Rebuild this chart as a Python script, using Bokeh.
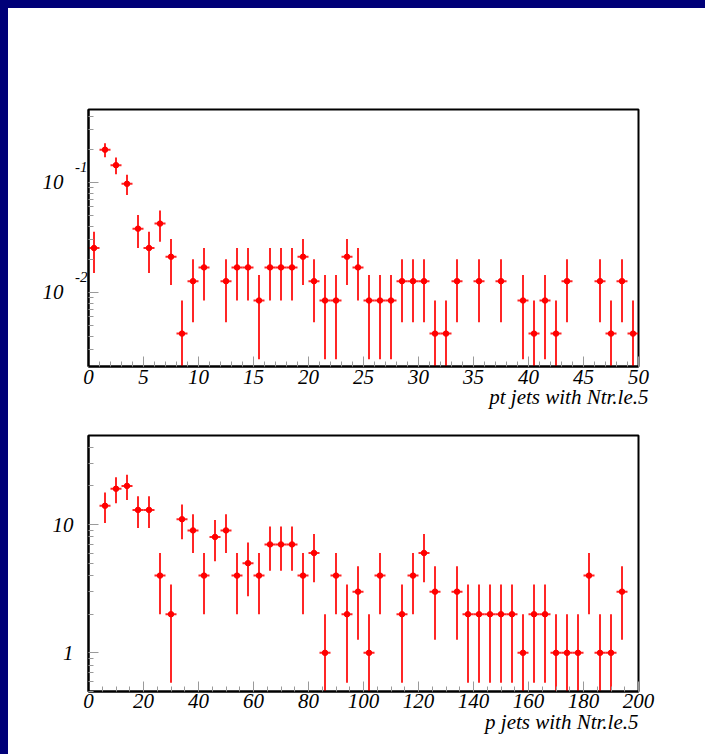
import math
from bokeh.plotting import figure
from bokeh.layouts import column
from bokeh.models import FixedTicker, ColumnDataSource, Range1d, LogAxis, Title
from bokeh.embed import file_html
from bokeh.resources import INLINE

# ---- data ----
# top panel: pt of jets, bins of width 1 on [0, 50], entries per bin (normalised to unit area)
pt_centers = [i + 0.5 for i in range(50)]
pt_counts = [6, 47, 34, 23, 9, 6, 10, 5, 1, 3,
             4, 0, 3, 4, 4, 2, 4, 4, 4, 5,
             3, 2, 2, 5, 4, 2, 2, 2, 3, 3,
             3, 1, 1, 3, 0, 3, 0, 3, 0, 2,
             1, 2, 1, 3, 0, 0, 3, 1, 3, 1]
pt_half_width = 0.5

# bottom panel: p of jets, bins of width 4 on [0, 200], entries per bin
p_centers = [2 + 4 * i for i in range(50)]
p_counts = [0, 14, 19, 20, 13, 13, 4, 2, 11, 9,
            4, 8, 9, 4, 5, 4, 7, 7, 7, 4,
            6, 1, 4, 2, 3, 1, 4, 0, 2, 4,
            6, 3, 0, 3, 2, 2, 2, 2, 2, 1,
            2, 2, 1, 1, 1, 4, 1, 1, 3, 0]
p_half_width = 2.0

top_title = "pt jets with Ntr.le.5"
bot_title = "p jets with Ntr.le.5"
top_xticks = list(range(0, 51, 5))
top_xminor = list(range(0, 51, 1))
bot_xticks = list(range(0, 201, 20))
bot_xminor = list(range(0, 201, 5))
top_yticks = [0.01, 0.1]
top_ylabels = {0.01: "10", 0.1: "10"}
top_yexponents = [-2, -1]
top_yminor = [m * 1e-3 for m in range(2, 10)] + [m * 1e-2 for m in range(2, 10)] + [0.2, 0.3, 0.4]
bot_yticks = [1, 10]
bot_ylabels = {1: "1", 10: "10"}
bot_yminor = [0.5, 0.6, 0.7, 0.8, 0.9] + list(range(2, 10)) + [20, 30, 40]

FONT = "Liberation Serif"
FSIZE = "21px"
RED = "#ff0000"
TICK_GREY = "#9a9a9a"


def hist_sources(centers, counts, half, norm, floor):
    xs, ys, vy0, vy1, hx0, hx1 = [], [], [], [], [], []
    for c, n in zip(centers, counts):
        if n <= 0:
            continue
        v = n / norm
        e = math.sqrt(n) / norm
        xs.append(c); ys.append(v)
        vy0.append(max(v - e, floor)); vy1.append(v + e)
        hx0.append(c - half); hx1.append(c + half)
    return ColumnDataSource(dict(x=xs, y=ys, y0=vy0, y1=vy1, x0=hx0, x1=hx1))


def label_style(ax, size):
    ax.major_label_text_font = FONT
    ax.major_label_text_font_style = "italic"
    ax.major_label_text_font_size = size
    ax.major_label_text_color = "black"


def style(p, xticks, xminor, yticks, yminor, xlabel, xstandoff, tstandoff, toffset):
    p.xgrid.visible = False
    p.ygrid.visible = False
    p.outline_line_color = "black"
    p.outline_line_width = 2
    p.background_fill_color = "white"
    p.border_fill_color = "white"
    p.xaxis.ticker = FixedTicker(ticks=xticks, minor_ticks=xminor)
    p.yaxis.ticker = FixedTicker(ticks=yticks, minor_ticks=yminor)
    for ax in (p.xaxis, p.yaxis):
        ax.axis_line_color = "black"
        ax.axis_line_width = 2
        ax.major_tick_in = 10
        ax.major_tick_out = 0
        ax.minor_tick_in = 5
        ax.minor_tick_out = 0
        ax.major_tick_line_color = TICK_GREY
        ax.minor_tick_line_color = TICK_GREY
        label_style(ax, FSIZE)
    p.xaxis.major_label_standoff = xstandoff
    t = Title(text=xlabel, align="right", offset=toffset, standoff=0,
              text_font=FONT, text_font_style="italic", text_font_size=FSIZE,
              text_color="black")
    try:
        t.standoff = tstandoff
    except Exception:
        t.standoff = 0
    p.add_layout(t, "below")


def label_axis(ticks, labels, size, standoff):
    ax = LogAxis(ticker=FixedTicker(ticks=ticks, minor_ticks=[]),
                 major_label_overrides=labels)
    ax.axis_line_color = None
    ax.major_tick_line_color = None
    ax.minor_tick_line_color = None
    ax.major_tick_in = 0
    ax.major_tick_out = 0
    ax.minor_tick_in = 0
    ax.minor_tick_out = 0
    ax.major_label_standoff = standoff
    label_style(ax, size)
    return ax


def draw(p, src):
    p.segment(x0="x", y0="y0", x1="x", y1="y1", source=src, line_color=RED, line_width=2, line_alpha=0.85)
    p.segment(x0="x0", y0="y", x1="x1", y1="y", source=src, line_color=RED, line_width=2, line_alpha=0.85)
    p.scatter(x="x", y="y", source=src, size=5.5, marker="circle", fill_color=RED, line_color=RED)


# ---- top panel ----
pt_norm = float(sum(pt_counts))
top_ymin, top_ymax = 0.00212, 0.46
p1 = figure(frame_width=550, frame_height=257, min_border_left=80, min_border_right=67,
            min_border_top=101, min_border_bottom=54,
            x_range=Range1d(0, 50), y_range=Range1d(top_ymin, top_ymax), y_axis_type="log",
            output_backend="svg", toolbar_location=None)
style(p1, top_xticks, top_xminor, top_yticks, top_yminor, top_title, 3, -7, -10)
# inner axis keeps only the ticks; mantissa and exponent labels sit on two outer axes
p1.yaxis.major_label_overrides = {t: "" for t in top_yticks}
p1.yaxis.major_label_text_font_size = "2px"
p1.yaxis.major_label_standoff = 0
sup_pos = [10 ** (k + 0.136) for k in top_yexponents]
sup_axis = label_axis(sup_pos, {pos: str(k) for pos, k in zip(sup_pos, top_yexponents)}, "15px", 1)
ten_axis = label_axis(top_yticks, top_ylabels, FSIZE, 9)
p1.add_layout(sup_axis, "left")
p1.add_layout(ten_axis, "left")
draw(p1, hist_sources(pt_centers, pt_counts, pt_half_width, pt_norm, top_ymin * 0.5))

# ---- bottom panel ----
bot_ymin, bot_ymax = 0.5, 49.4
p2 = figure(frame_width=550, frame_height=256, min_border_left=80, min_border_right=67,
            min_border_top=15, min_border_bottom=63,
            x_range=Range1d(0, 200), y_range=Range1d(bot_ymin, bot_ymax), y_axis_type="log",
            output_backend="svg", toolbar_location=None)
style(p2, bot_xticks, bot_xminor, bot_yticks, bot_yminor, bot_title, 2, -5, 0)
p2.yaxis.major_label_overrides = bot_ylabels
p2.yaxis.major_label_standoff = 15
draw(p2, hist_sources(p_centers, p_counts, p_half_width, 1.0, bot_ymin * 0.5))

layout = column(p1, p2, spacing=0, styles={"background-color": "white"})

html = file_html(layout, INLINE)
page_css = ("<style>html, body { background: #000078 !important; } "
            "body { padding: 8px 0 0 8px !important; overflow: hidden; }</style>")
html = html.replace("</head>", page_css + "</head>", 1)
open("out.html", "w").write(html)
